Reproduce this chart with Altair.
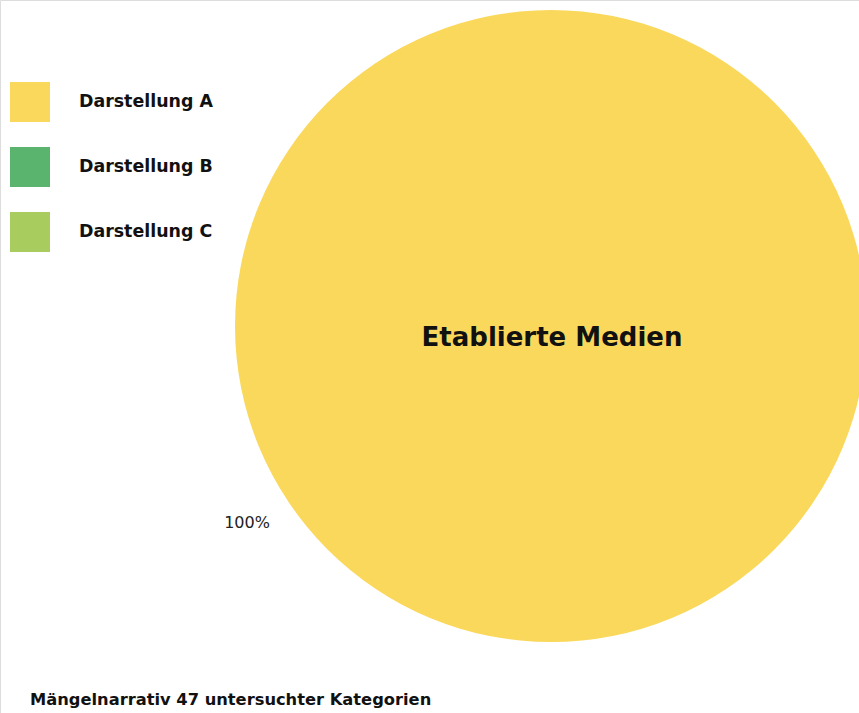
import altair as alt
import pandas as pd

categories = ["Darstellung A", "Darstellung B", "Darstellung C"]
shares = [100, 0, 0]
colors = ["#FAD85B", "#5BB46E", "#A8CD5E"]
center_label = "Etablierte Medien"
pct_label = "100%"
title_text = "Mängelnarrativ 47 untersuchter Kategorien"

df = pd.DataFrame({"cat": categories, "share": shares})

FONT = "DejaVu Sans"

pie = alt.Chart(df).mark_arc(radius=316, stroke=None).encode(
    theta=alt.Theta("share:Q", stack=True),
    color=alt.Color(
        "cat:N",
        scale=alt.Scale(domain=categories, range=colors),
        legend=alt.Legend(
            title=None,
            orient="none",
            legendX=10,
            legendY=82,
            padding=0,
            symbolType="square",
            symbolSize=1600,
            symbolStrokeWidth=0,
            symbolOpacity=1,
            labelFont=FONT,
            labelFontSize=17.4,
            labelFontWeight="bold",
            labelColor="#111111",
            labelOffset=29,
            rowPadding=25,
            labelLimit=300,
        ),
    ),
    order=alt.Order("share:Q", sort="descending"),
    x=alt.value(551),
    y=alt.value(326),
)

center = alt.Chart(pd.DataFrame({"t": [center_label]})).mark_text(
    font=FONT, fontSize=26, fontWeight="bold", color="#111111", align="center", baseline="middle"
).encode(text="t:N", x=alt.value(552), y=alt.value(338))

pct = alt.Chart(pd.DataFrame({"t": [pct_label]})).mark_text(
    font=FONT, fontSize=16, color="#222222", align="center", baseline="middle"
).encode(text="t:N", x=alt.value(247), y=alt.value(523))

title = alt.Chart(pd.DataFrame({"t": [title_text]})).mark_text(
    font=FONT, fontSize=16.3, fontWeight="bold", color="#111111", align="left", baseline="middle"
).encode(text="t:N", x=alt.value(30), y=alt.value(700))

chart = alt.layer(pie, center, pct, title).properties(
    width=859, height=713, autosize=alt.AutoSizeParams(type="none"), padding=0
).configure_view(stroke=None).configure(background="white")

chart.save("out.html", embed_options={"renderer": "svg", "actions": False})
